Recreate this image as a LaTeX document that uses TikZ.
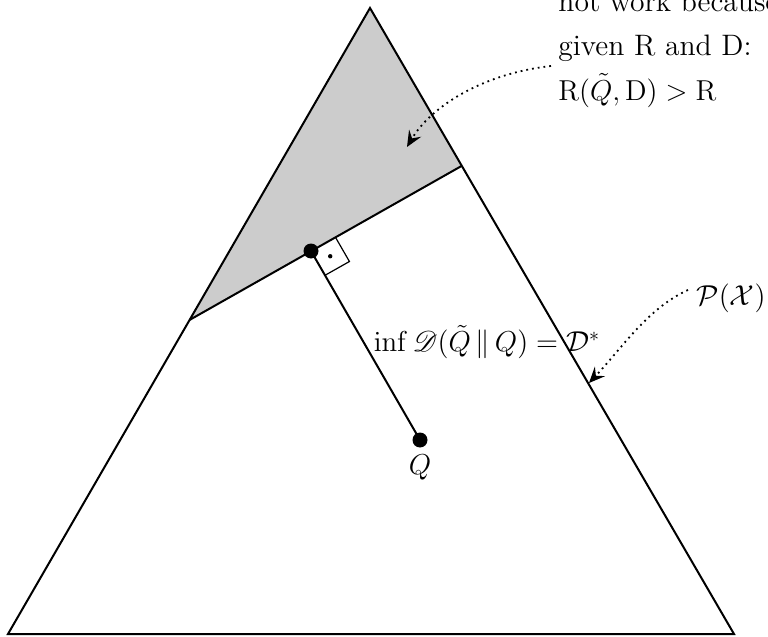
\documentclass[tikz,border=0pt]{standalone}
\usepackage{amsmath,amssymb,mathrsfs}
\usetikzlibrary{arrows.meta,calc}
\begin{document}
\begin{tikzpicture}[x=0.5pt,y=-0.5pt,
  edge/.style={line width=1pt},
  pt/.style={circle,fill=black,inner sep=0pt,minimum size=7.5pt},
  note/.style={dotted,line width=0.9pt,-{Stealth[length=8pt,width=7pt,inset=3pt]}},
  lbl/.style={font=\fontsize{14}{20}\selectfont,inner sep=0pt},
  toplbl/.style={font=\fontsize{14.8}{20}\selectfont,inner sep=0pt,anchor=base west}]
\clip (0,0) rectangle (768,637);
\useasboundingbox (0,0) rectangle (768,637);
\coordinate (A) at (370,8);
\coordinate (BL) at (8,634);
\coordinate (BR) at (734,634);
\coordinate (L) at (189.5,320);
\coordinate (R) at (461.5,166);
\fill[gray!40] (A) -- (R) -- (L) -- cycle;
\draw[edge] (A) -- (BR) -- (BL) -- cycle;
\draw[edge] (L) -- (R);
\node[pt] (P) at (311,251) {};
\node[pt] (Q) at (420,440) {};
\draw[edge] (P.center) -- (Q.center);
% right angle mark
\path let \p1=($(R)-(P.center)$), \p2=($(Q.center)-(P.center)$),
  \n1={veclen(\x1,\y1)}, \n2={veclen(\x2,\y2)} in
  coordinate (ua) at ($(P.center)+14/\n1*(\p1)$)
  coordinate (va) at ($(P.center)+14/\n2*(\p2)$);
\coordinate (uv) at ($(ua)+(va)-(P.center)$);
\draw[line width=0.6pt] (ua) -- (uv) -- (va);
\coordinate (m) at ($(P.center)!0.5!(uv)$);
\fill (m) circle (1.1pt);
\node[lbl] (Ql) at (420,467) {$Q$};
\node[lbl] (inf) at (487,342) {$\inf \mathscr{D}(\tilde{Q}\,\|\,Q) = \mathcal{D}^{*}$};
\node[lbl] (PX) at (731,298) {$\mathcal{P}(\mathcal{X})$};
\node[toplbl] (t1) at (558,11) {not work because};
\node[toplbl] (t2) at (558,55) {given R and D:};
\node[toplbl] (t3) at (558,100) {$\mathrm{R}(\tilde{Q},\mathrm{D}) > \mathrm{R}$};
\coordinate (s1) at (551,66);
\coordinate (e1) at (407,147);
\draw[note] (s1) .. controls (480,74) and (430,108) .. (e1);
\coordinate (s2) at (688,290);
\coordinate (e2) at (589,383);
\draw[note] (s2) .. controls (648,308) and (622,348) .. (e2);
\end{tikzpicture}
\end{document}
